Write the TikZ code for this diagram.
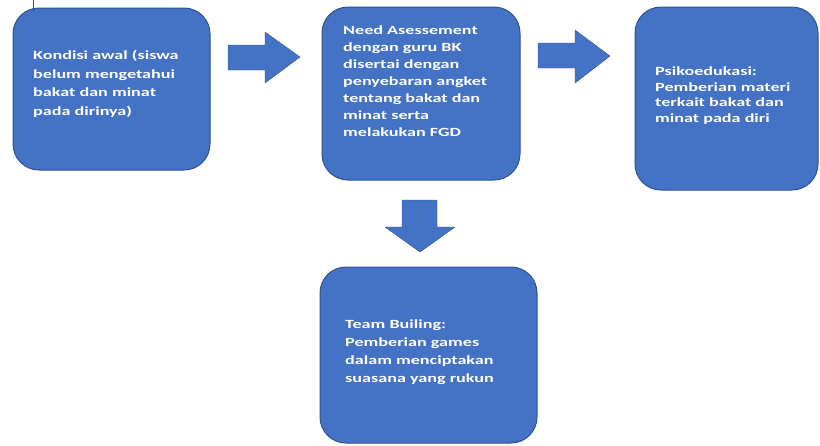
\documentclass[tikz,border=0pt]{standalone}
\usepackage{fontspec}
\newfontfamily\boxfont[FakeStretch=1.45]{Carlito}
\definecolor{boxblue}{HTML}{4472C4}
\definecolor{boxedge}{HTML}{2F528F}
\begin{document}
\begin{tikzpicture}[x=1pt,y=-1pt,
  box/.style={draw=boxedge,fill=boxblue,line width=1pt,rounded corners=26pt},
  txt/.style={anchor=north west,inner sep=0pt,align=left,text=white,
    font=\boxfont\bfseries\fontsize{12.5}{17}\selectfont},
  blockarrow/.style={fill=boxblue,draw=boxedge,line width=0.4pt}]
\useasboundingbox (0,0) rectangle (820,445);
% boxes
\draw[box] (13,8) rectangle (210,170);
\draw[box] (322,7) rectangle (520,180);
\draw[box] (635,7) rectangle (818,190);
\draw[box] (320,267) rectangle (537,443);
% cursor line
\draw[line width=1pt,black!70] (33,0) -- (33,11);
% texts
\node[txt,font=\boxfont\bfseries\fontsize{12.5}{18.7}\selectfont] (t1) at (33,50) {Kondisi awal (siswa\\belum mengetahui\\bakat dan minat\\pada dirinya)};
\node[txt] (t2) at (343,26) {Need Asessement\\dengan guru BK\\disertai dengan\\penyebaran angket\\tentang bakat dan\\minat serta\\melakukan FGD};
\node[txt,font=\boxfont\bfseries\fontsize{12.5}{15.5}\selectfont] (t3) at (655,67) {Psikoedukasi:\\Pemberian materi\\terkait bakat dan\\minat pada diri};
\node[txt,font=\boxfont\bfseries\fontsize{12.5}{18}\selectfont] (t4) at (345,320) {Team Builing:\\Pemberian games\\dalam menciptakan\\suasana yang rukun};
% arrows
\draw[blockarrow] (228,45) -- (265,45) -- (265,32) -- (300,57) -- (265,83) -- (265,70) -- (228,70) -- cycle;
\draw[blockarrow] (538,43) -- (575,43) -- (575,30) -- (610,56) -- (575,83) -- (575,68) -- (538,68) -- cycle;
\draw[blockarrow] (402,200) -- (437,200) -- (437,227) -- (455,227) -- (420,252) -- (385,227) -- (402,227) -- cycle;
\end{tikzpicture}
\end{document}
